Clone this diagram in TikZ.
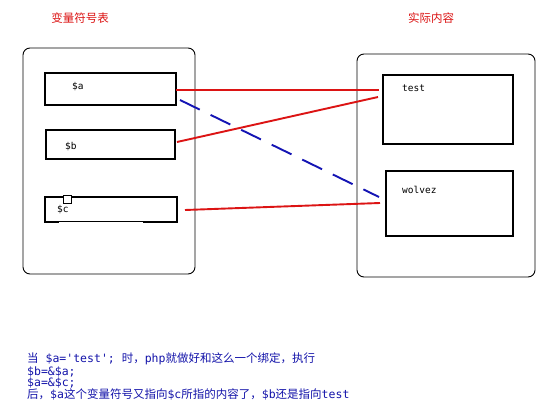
\documentclass[tikz,border=0pt]{standalone}
\usepackage{fontspec}
\newfontfamily\zhfont{Noto Sans CJK SC}
\newfontfamily\monofont[Ligatures=ResetAll]{DejaVu Sans Mono}
\newcommand{\zh}[1]{{\zhfont #1}}
\newcommand{\mn}[1]{{\monofont #1}}
\definecolor{linered}{RGB}{220,20,20}
\definecolor{lineblue}{RGB}{20,20,180}
\definecolor{textblue}{RGB}{20,20,170}
\tikzset{
  panel/.style={draw=black, line width=0.9pt, rounded corners=7pt, inner sep=0pt},
  cell/.style={draw=black, line width=1.8pt, inner sep=0pt},
  cellname/.style={font=\monofont\fontsize{9.5}{10}\selectfont, inner sep=0pt, anchor=west},
  title/.style={font=\zhfont\fontsize{11.5}{12}\selectfont, text=linered, inner sep=0pt},
  note/.style={font=\fontsize{11.5}{12}\selectfont, text=textblue, inner sep=0pt, anchor=base west},
  redlink/.style={draw=linered, line width=1.9pt},
  bluelink/.style={draw=lineblue, line width=1.9pt, dash pattern=on 22pt off 12pt},
}
\begin{document}
\begin{tikzpicture}[x=1pt, y=-1pt]
\useasboundingbox[fill=white] (0,0) rectangle (548,417);

% titles
\node[title] (t1) at (80,18) {变量符号表};
\node[title] (t2) at (431,18) {实际内容};

% panels
\node[panel, minimum width=172pt, minimum height=226pt] (lp) at (109,161) {};
\node[panel, minimum width=178pt, minimum height=223pt] (rp) at (446,165.5) {};

% variable cells
\node[cell, minimum width=131pt, minimum height=32pt] (ba) at (110.5,89) {};
\node[cell, minimum width=129pt, minimum height=29pt] (bb) at (110.5,144.5) {};
\node[cell, minimum width=132pt, minimum height=25pt] (bc) at (111,209.5) {};
\draw[white, line width=0.8pt] (59,222.6) -- (143,222.6);
\node[draw=black, fill=white, line width=0.8pt, minimum size=8pt, inner sep=0pt] (sq) at (67,199) {};

\node[cellname] (la) at (72,87) {\$a};
\node[cellname] (lb) at (65,147) {\$b};
\node[cellname] (lc) at (57,210) {\$c};

% content cells
\node[cell, minimum width=130pt, minimum height=69pt] (bt) at (448,109.5) {};
\node[cell, minimum width=127pt, minimum height=65pt] (bw) at (449.5,203.5) {};
\node[cellname] (lt) at (402,88) {test};
\node[cellname] (lw) at (402,190) {wolvez};

% link end points
\coordinate (s1) at (176,90);
\coordinate (e1) at (379,90);
\coordinate (s2) at (177,142);
\coordinate (e2) at (378,97);
\coordinate (s3) at (185,210);
\coordinate (e3) at (380,203);
\coordinate (s4) at (180,100);
\coordinate (e4) at (379,197);

\draw[bluelink] (s4) -- (e4);
\draw[redlink] (s1) -- (e1);
\draw[redlink] (s2) -- (e2);
\draw[redlink] (s3) -- (e3);

% notes
\node[note] (n1) at (27,362.5) {\zh{当}\mn{ \$a='test'; }\zh{时，}\mn{php}\zh{就做好和这么一个绑定，执行}};
\node[note] (n2) at (27,375) {\mn{\$b=\&\$a;}};
\node[note] (n3) at (27,386) {\mn{\$a=\&\$c;}};
\node[note] (n4) at (27,398) {\zh{后，}\mn{\$a}\zh{这个变量符号又指向}\mn{\$c}\zh{所指的内容了，}\mn{\$b}\zh{还是指向}\mn{test}};
\end{tikzpicture}
\end{document}
